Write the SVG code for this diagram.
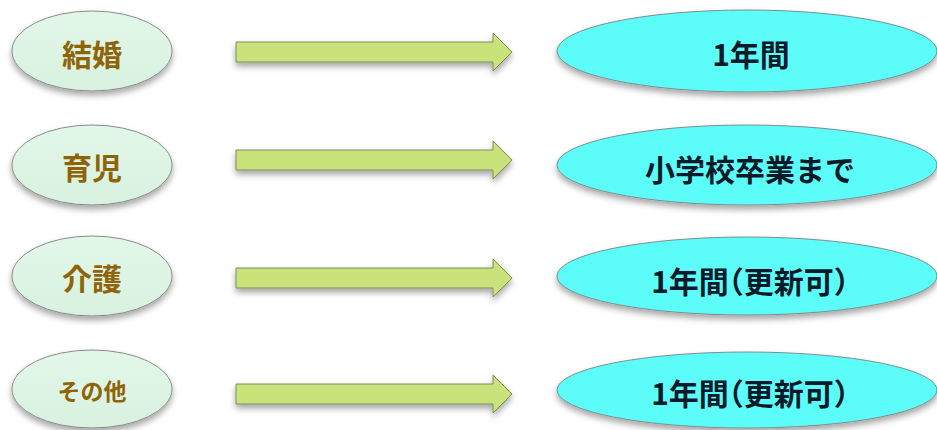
<svg xmlns="http://www.w3.org/2000/svg" width="937" height="430" viewBox="0 0 937 430">
<defs>
<filter id="sh" x="-20%" y="-30%" width="140%" height="180%">
<feDropShadow dx="0" dy="4" stdDeviation="3" flood-color="#000" flood-opacity="0.35"/>
</filter>
<linearGradient id="lg" x1="0" y1="0" x2="0" y2="1">
<stop offset="0" stop-color="#e2f7e8"/>
<stop offset="1" stop-color="#d8f2df"/>
</linearGradient>
</defs>
<style>
.l{fill:url(#lg);stroke:#8a8a8a;stroke-width:1;filter:url(#sh)}
.r{fill:#5cfcf9;stroke:#7a8f90;stroke-width:1;filter:url(#sh)}
.a{fill:#c9e27a;stroke:#7f8c58;stroke-width:1;filter:url(#sh)}
.lt{font-family:"Noto Sans CJK JP",sans-serif;font-weight:bold;fill:#8f6408;text-anchor:middle;dominant-baseline:central}
.rt{font-family:"Noto Sans CJK JP",sans-serif;font-weight:bold;fill:#0b1a28;text-anchor:middle;dominant-baseline:central;font-size:30px}
.h{font-feature-settings:"halt"}
</style>
<rect width="937" height="430" fill="#fff"/>
<g id="connectors">
<path class="a" d="M236,42 H493 V33 L512,52 L493,71 V62 H236 Z"/>
<path class="a" d="M236,150 H493 V141 L512,160 L493,179 V170 H236 Z"/>
<path class="a" d="M236,268 H493 V259 L512,278 L493,297 V288 H236 Z"/>
<path class="a" d="M236,384 H493 V375 L512,394 L493,413 V404 H236 Z"/>
</g>
<g id="n-kekkon"><ellipse class="l" cx="92" cy="51" rx="80" ry="40"/><text class="lt" x="92" y="53" font-size="30">結婚</text></g>
<g id="n-ikuji"><ellipse class="l" cx="92" cy="165" rx="80" ry="40"/><text class="lt" x="92" y="166" font-size="30">育児</text></g>
<g id="n-kaigo"><ellipse class="l" cx="92" cy="276" rx="80" ry="40"/><text class="lt" x="92" y="277" font-size="30">介護</text></g>
<g id="n-sonota"><ellipse class="l" cx="92" cy="389" rx="80" ry="39"/><text class="lt" x="92" y="390" font-size="23">その他</text></g>
<g id="r-1"><ellipse class="r" cx="747" cy="51" rx="190" ry="41"/><text class="rt" x="751" y="53">1年間</text></g>
<g id="r-2"><ellipse class="r" cx="747" cy="165" rx="190" ry="40"/><text class="rt" x="750" y="168">小学校卒業まで</text></g>
<g id="r-3"><ellipse class="r" cx="747" cy="276" rx="190" ry="39"/><text class="rt h" x="750" y="280">1年間（更新可）</text></g>
<g id="r-4"><ellipse class="r" cx="747" cy="390" rx="190" ry="38"/><text class="rt h" x="750" y="392">1年間（更新可）</text></g>
</svg>
